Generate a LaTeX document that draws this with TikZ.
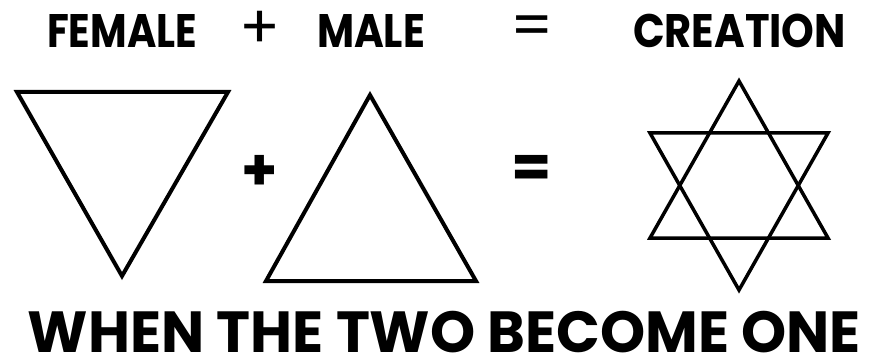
\documentclass[tikz,border=0pt]{standalone}
\usepackage{fontspec}
\setmainfont{Poppins}
\usepackage{graphicx}
\usepackage{tikz}
\usetikzlibrary{positioning}

% squeeze a word to a given width, keep its height
\newcommand{\squeeze}[2]{\resizebox{#1}{\height}{#2}}

\begin{document}
\begin{tikzpicture}[
    x=1pt, y=-1pt,
    headtxt/.style={font=\fontsize{47}{47}\selectfont\bfseries, anchor=base, inner sep=0pt},
    headop/.style={font=\fontsize{60}{60}\selectfont, inner sep=0pt},
    midop/.style={font=\fontsize{58}{58}\selectfont\bfseries, inner sep=0pt},
    foottxt/.style={font=\fontsize{58}{58}\selectfont\bfseries, anchor=base, inner sep=0pt},
    symbol/.style={draw=black, line width=4pt},
    hexa/.style={draw=black, line width=3.5pt}
]
\useasboundingbox (0,0) rectangle (874,358);

% ==================== HEADER ====================
\node[headtxt] (female) at (122,48) {\squeeze{150pt}{FEMALE}};
\node[headop] (plushead) at (259.5,29.5) {+};
\node[headtxt] (male) at (371,48) {\squeeze{108pt}{MALE}};
\node[headop] (eqhead) at (532.5,31) {=};
\node[headtxt] (creation) at (739.5,48) {\squeeze{213pt}{CREATION}};

% ==================== SYMBOLS ====================
% female: pointing down
\draw[symbol] (17,92) -- (228,92) -- (122,276) -- cycle;
\node[midop] (plusmid) at (260,173) {+};
% male: pointing up
\draw[symbol] (370,95) -- (476,281) -- (266,281) -- cycle;
\node[midop] (eqmid) at (532,171) {=};
% creation: the two together
\draw[hexa] (739,81) -- (828,238) -- (650,238) -- cycle;
\draw[hexa] (650,133) -- (828,133) -- (739,290) -- cycle;

% ==================== FOOTER ====================
\node[foottxt] (motto) at (444.5,352) {\squeeze{833pt}{WHEN THE TWO BECOME ONE}};

\end{tikzpicture}
\end{document}
